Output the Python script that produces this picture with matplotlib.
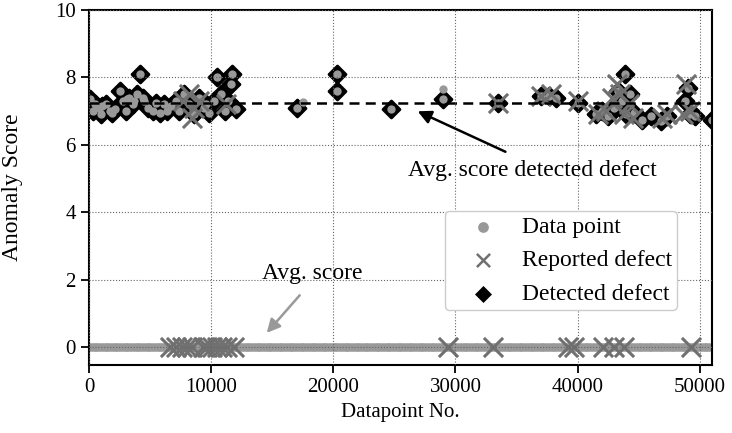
import numpy as np
import matplotlib
matplotlib.use('Agg')
import matplotlib.pyplot as plt

plt.rcParams['font.family'] = ['Liberation Serif', 'DejaVu Serif']
plt.rcParams['font.size'] = 15

# datapoint index of the whole record, normal points all score ~0
n_points = 51000
idx_normal = np.arange(0, n_points, 150)
score_normal = np.zeros(len(idx_normal))

# detected defects (high anomaly score)
det_x = [100, 300, 500, 800, 1000, 1100, 1400, 1700, 1900, 2100, 2500, 2800, 3000, 3300,
         3600, 3900, 4200, 4400, 4500, 4800, 5200, 5500, 5800, 6100, 6400, 6700, 7100,
         7400, 7800, 8200, 8600, 9000, 9400, 9800, 10200, 10500, 10800, 11100, 11400,
         11700, 12000, 3100, 3700, 9600, 11600,
         17000, 20300, 20300, 24700, 29000, 33500, 37000, 37700, 38200, 40000,
         41500, 42000, 42500, 43000, 43300, 43600, 43900, 44000, 44300, 44600,
         45300, 46000, 46800, 47300, 48800, 49000, 49200, 49600, 51000]
det_y = [7.35, 7.0, 7.2, 7.1, 6.9, 7.15, 7.2, 7.0, 6.95, 7.05, 7.6, 7.3, 7.0, 7.4,
         7.2, 7.5, 8.1, 7.4, 7.3, 7.1, 7.0, 7.25, 6.95, 7.2, 7.0, 7.15, 7.3,
         7.0, 7.5, 7.2, 6.9, 7.4, 7.1, 6.95, 7.3, 8.0, 7.5, 7.0, 7.3,
         8.1, 7.05, 7.35, 7.3, 7.2, 7.8,
         7.1, 8.1, 7.6, 7.05, 7.35, 7.25, 7.45, 7.45, 7.4, 7.25,
         6.9, 7.0, 6.85, 7.1, 7.6, 7.3, 8.1, 6.9, 7.5, 6.95,
         6.75, 6.85, 6.7, 6.85, 7.3, 7.7, 6.9, 6.85, 6.75]

# extra high-score data points without a detection marker
extra_x = [17500, 29000]
extra_y = [7.28, 7.65]

# reported defects: with high score and with score ~0
rep_hi_x = [7700, 8200, 8400, 8600, 9000, 11200, 33500, 37000, 37800, 40000, 41700,
            42300, 42800, 43200, 43500, 43800, 44200, 44500, 46900, 47300, 48600,
            48900, 49200]
rep_hi_y = [7.3, 7.5, 6.8, 7.1, 7.3, 7.2, 7.25, 7.45, 7.5, 7.3, 6.9,
            7.0, 7.4, 7.8, 7.5, 6.9, 7.2, 6.8, 6.8, 6.9, 6.9,
            7.8, 7.0]
rep_lo_x = [6600, 7100, 7600, 8000, 8400, 9300, 9700, 10100, 10500, 10900, 11300,
            11900, 29400, 33100, 39200, 39700, 42100, 42950, 43800, 49300]
rep_lo_y = [0.0] * len(rep_lo_x)

avg_score = 0.0
avg_detected = 7.25

data_x = list(idx_normal) + det_x + extra_x
data_y = list(score_normal) + det_y + extra_y
rep_x = rep_lo_x + rep_hi_x
rep_y = rep_lo_y + rep_hi_y

fig = plt.figure(figsize=(7.32, 4.33), dpi=100)
ax = fig.add_axes([0.1216, 0.157, 0.851, 0.820])

ax.scatter(det_x, det_y, marker='D', s=75, color='black', edgecolors='black',
           linewidths=2, zorder=1.0, label='Detected defect')
ax.scatter(data_x, data_y, marker='o', s=36, color='#999999', linewidths=0,
           zorder=1.1, label='Data point')
ax.scatter(rep_x, rep_y, marker='x', s=190, color='#707070', linewidths=2.2,
           zorder=1.2, label='Reported defect')

ax.plot([0, n_points], [avg_score, avg_score], '--', color='#999999', lw=2, zorder=1.05)
ax.plot([0, n_points], [avg_detected, avg_detected], '--', color='black', lw=1.8,
        dashes=(4, 2.5), zorder=1.3)

ax.text(14200, 2.17, 'Avg. score', ha='left', va='center', fontsize=17)
ax.annotate('', xy=(14400, 0.36), xytext=(17400, 1.6),
            arrowprops=dict(arrowstyle='-|>', color='#999999', lw=1.8, mutation_scale=20))
ax.text(26150, 5.25, 'Avg. score detected defect', ha='left', va='center', fontsize=17)
ax.annotate('', xy=(26700, 7.03), xytext=(34300, 5.76),
            arrowprops=dict(arrowstyle='-|>', color='black', lw=1.8, mutation_scale=20))

ax.set_xlim(0, n_points)
ax.set_ylim(-0.53, 10)
ax.set_xticks([0, 10000, 20000, 30000, 40000, 50000])
ax.set_yticks([0, 2, 4, 6, 8, 10])
ax.set_xlabel('Datapoint No.')
ax.set_ylabel('Anomaly Score', fontsize=17)
ax.yaxis.set_label_coords(-0.106, 0.5)
ax.set_axisbelow(False)
ax.grid(True, linestyle=':', color='#666666', lw=0.8)
ax.tick_params(direction='out', length=6, width=1.3)
for sp in ax.spines.values():
    sp.set_linewidth(1.5)

h, l = ax.get_legend_handles_labels()
order = [1, 2, 0]
leg = ax.legend([h[i] for i in order], [l[i] for i in order], loc='lower left',
                bbox_to_anchor=(0.571, 0.155), borderaxespad=0, framealpha=1,
                edgecolor='#cccccc', handletextpad=0.26, borderpad=0.22,
                labelspacing=0.5, handlelength=2.78, fontsize=17)
for hd, sz in zip(leg.legend_handles, [60, 90, 75]):
    hd.set_sizes([sz])
leg.legend_handles[1].set_linewidths([1.8])
leg.legend_handles[2].set_linewidths([0])

fig.savefig('out.png', dpi=100)
